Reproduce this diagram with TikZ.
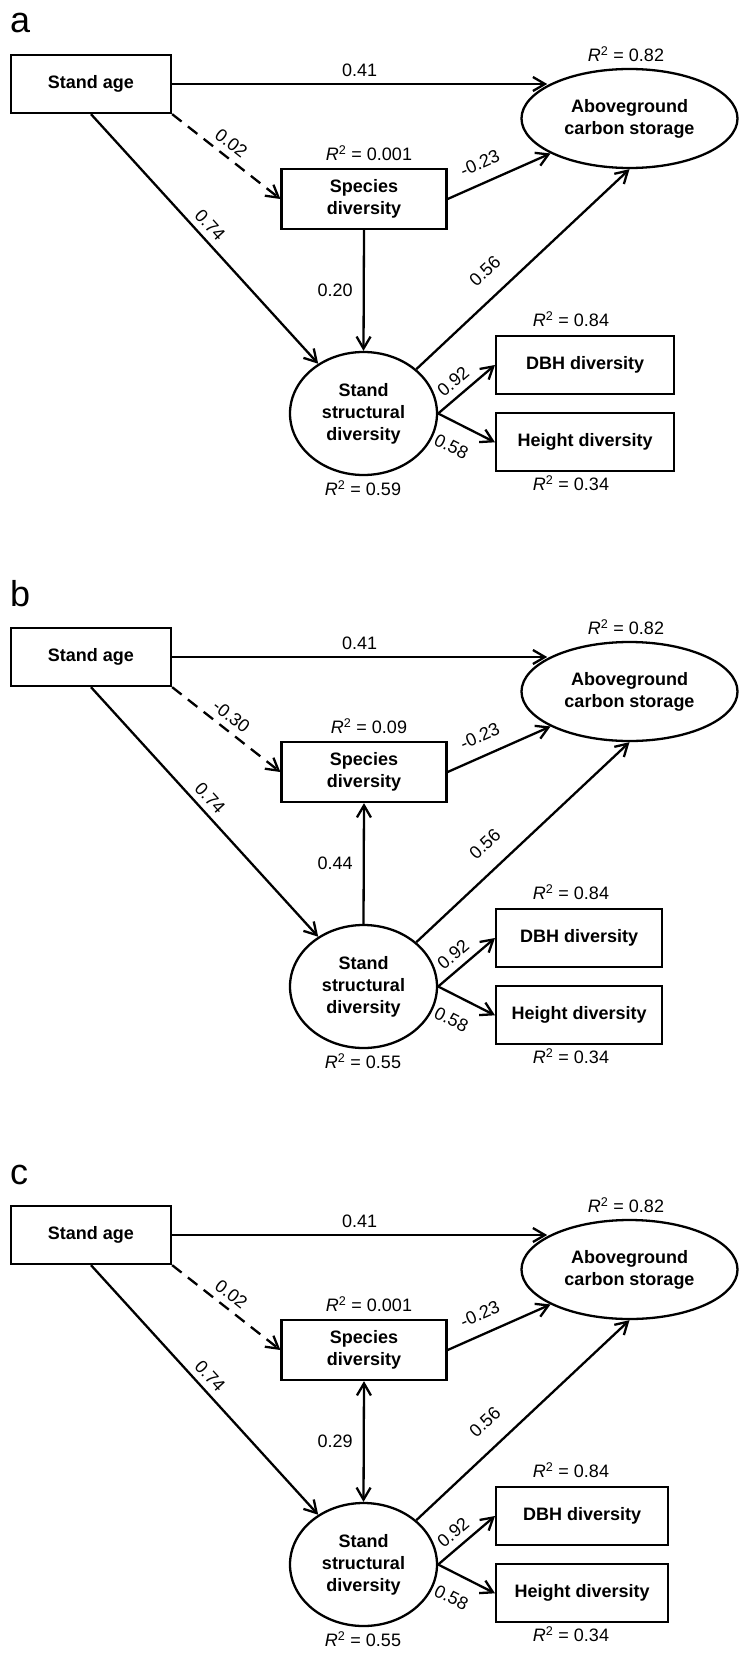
\documentclass[tikz,border=0pt]{standalone}
\usepackage{fontspec}
\setmainfont{Liberation Sans}
\usetikzlibrary{arrows.meta,positioning,shapes.geometric}

\newcommand\semfont{\fontsize{18}{22}\selectfont}
\newcommand\rtwo{\textit{R}\textsuperscript{2}}

\tikzset{
  var/.style={draw,line width=2.3pt,align=center,inner sep=0pt,font=\semfont\bfseries},
  obs/.style={var,minimum height=58pt},
  lat/.style={var,ellipse},
  link/.style={line width=2.3pt,->},
  coef/.style={font=\semfont,inner sep=2pt},
  lka/.style={->},
  lkb/.style={<-},
  lkc/.style={<->},
}

\begin{document}
\begin{tikzpicture}[x=1pt,y=-1pt,>={Straight Barb[length=12pt,width=14pt]}]
  \useasboundingbox[fill=white] (0,0) rectangle (739,1653);
  % one panel per model: letter/shift/Stand age->species/R2 species/species-structure/R2 structure/box width
  \foreach \p/\dy/\dl/\rsp/\lv/\rss/\bw in {a/0/0.02/0.001/0.20/0.59/178,
                                            b/573/-0.30/0.09/0.44/0.55/166,
                                            c/1151/0.02/0.001/0.29/0.55/172}{
  \begin{scope}[shift={(0,\dy)}]
    \node[font=\fontsize{36}{36}\selectfont,anchor=base west,inner sep=0pt] (lbl\p) at (10,33) {\p};
    \node[obs,minimum width=160pt] (sa\p) at (91,84) {Stand age};
    \node[lat,minimum width=216pt,minimum height=99pt] (agc\p) at (629.5,118.5) {Aboveground\\carbon storage};
    \node[obs,minimum width=165pt,minimum height=60pt] (sp\p) at (364,199) {Species\\diversity};
    \node[lat,minimum width=147pt,minimum height=123pt] (ssd\p) at (363.5,413.5) {Stand\\structural\\diversity};
    \node[obs,minimum width=\bw pt,anchor=west] (dbh\p) at (495,365) {DBH diversity};
    \node[obs,minimum width=\bw pt,below=17pt of dbh\p] (ht\p) {Height diversity};

    \node[coef,anchor=base] (ragc\p) at (626,61.5) {\rtwo{} = 0.82};
    \node[coef,anchor=base] (rsp\p) at (369,160.5) {\rtwo{} = \rsp};
    \node[coef,anchor=base] (rssd\p) at (363,495.5) {\rtwo{} = \rss};
    \node[coef,anchor=base] (rdbh\p) at (571,326.5) {\rtwo{} = 0.84};
    \node[coef,anchor=base] (rht\p) at (571,490.5) {\rtwo{} = 0.34};

    \draw[link] (sa\p.east) -- (sa\p.east -| agc\p.158) node[coef,midway,above=4pt] (ka\p) {0.41};
    \draw[link,dash pattern=on 12pt off 8pt] (sa\p.south east) -- (sp\p.west)
      node[coef,sloped,above=4pt,pos=0.47] (kb\p) {\dl};
    \draw[link] (sa\p.south) -- (ssd\p) node[coef,sloped,above=4pt,pos=0.48] (kc\p) {0.74};
    \draw[link] (sp\p.east) -- (agc\p) node[coef,sloped,above=10pt,pos=0.39] (kd\p) {-0.23};
    \draw[link] (ssd\p.40) -- (agc\p.south) node[coef,sloped,above=15pt,pos=0.4] (ke\p) {0.56};
    \draw[link,lk\p] (sp\p.south) -- (ssd\p.north) node[coef,midway,left=8pt] (kf\p) {\lv};
    \draw[link] (ssd\p.east) -- (dbh\p.west) node[coef,sloped,above=5pt,pos=0.43] (kg\p) {0.92};
    \draw[link] (ssd\p.east) -- (ht\p.west) node[coef,sloped,below=14pt,pos=0.42] (kh\p) {0.58};
  \end{scope}
  }
\end{tikzpicture}
\end{document}
